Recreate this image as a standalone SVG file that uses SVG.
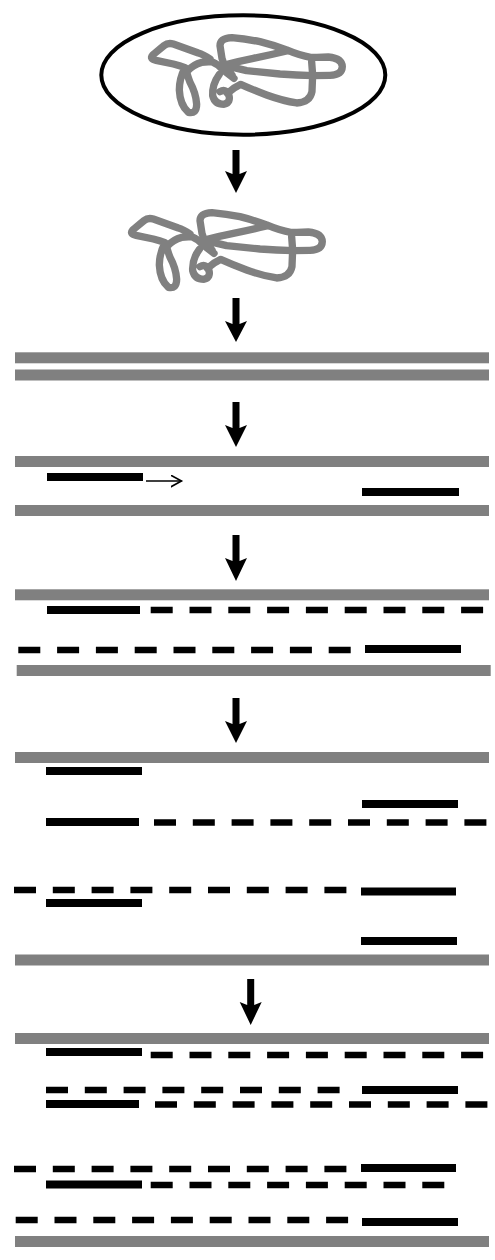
<svg xmlns="http://www.w3.org/2000/svg" width="495" height="1260" viewBox="0 0 495 1260">
  <style>
    .bar { fill: #808080; }
    .seg { stroke: #000; stroke-width: 8; fill: none; }
    .dash { stroke: #000; stroke-width: 6.5; fill: none; stroke-dasharray: 22 16.8; }
    .coil { fill: none; stroke: #808080; stroke-width: 22; stroke-linejoin: round; stroke-linecap: round; }
    .step { fill: #000; }
  </style>
  <defs>
    <!-- tangled strand, drawn in a 3x local frame -->
    <g id="tangle">
      <path class="coil" d="M210,102 Q190,88 175,84 L100,57 Q84,52 72,62 L38,90 Q28,102 48,106 L100,117 Q120,122 135,128
        Q118,160 118,195 Q120,240 145,262 Q170,268 170,238 Q168,205 150,172 Q142,150 140,140
        Q160,118 185,112 L215,110 Q235,118 250,135 L282,160"/>
      <path class="coil" d="M238,148 Q216,178 218,212 Q224,238 252,238 Q274,232 266,208 Q256,190 240,200"/>
      <path class="coil" d="M262,205 Q280,188 302,178 Q340,195 380,210 Q430,228 470,234 Q510,232 516,200 L518,150 L515,110"/>
      <path class="coil" d="M276,150 Q252,125 246,100 L240,62 Q240,40 276,38 Q320,42 360,50 Q400,60 440,75 Q480,92 512,97 Q540,98 565,96 Q606,100 607,125 Q606,150 570,151 L520,152 Q470,150 420,147 Q370,142 320,137 L282,128"/>
      <path class="coil" d="M262,118 Q300,108 340,100 Q390,90 440,78"/>
    </g>
    <marker id="thinHead" markerWidth="14" markerHeight="14" refX="11" refY="6" orient="auto" markerUnits="userSpaceOnUse">
      <path d="M0,0 L11,6 L0,12" fill="none" stroke="#000" stroke-width="1.6"/>
    </marker>
  </defs>

  <!-- cell with its genome -->
  <g id="cell">
    <ellipse cx="243.3" cy="75" rx="142" ry="59.7" fill="#fff" stroke="#000" stroke-width="4"/>
    <use href="#tangle" transform="translate(140,25) scale(0.3333)"/>
  </g>

  <!-- released genome -->
  <g id="released">
    <use href="#tangle" transform="translate(120,200) scale(0.3333)"/>
  </g>

  <!-- denatured duplex -->
  <g id="duplex">
    <rect class="bar" x="15" y="352.3" width="474" height="11"/>
    <rect class="bar" x="15" y="369.5" width="474" height="11"/>
  </g>

  <!-- primers annealed -->
  <g id="primed">
    <rect class="bar" x="15" y="456" width="474" height="11"/>
    <rect class="bar" x="15" y="505" width="474" height="11"/>
    <line class="seg" x1="47" y1="477" x2="143" y2="477"/>
    <line x1="146" y1="481" x2="181.5" y2="481" stroke="#000" stroke-width="1.6" marker-end="url(#thinHead)"/>
    <line class="seg" x1="362" y1="492" x2="459" y2="492"/>
  </g>

  <!-- first extension -->
  <g id="extended">
    <rect class="bar" x="15" y="589.3" width="474" height="11"/>
    <rect class="bar" x="16.7" y="665" width="474" height="11"/>
    <line class="seg" x1="47" y1="610" x2="140" y2="610"/>
    <line class="dash" x1="150.7" y1="610" x2="483.1" y2="610"/>
    <line class="dash" x1="18.3" y1="650" x2="350.7" y2="650"/>
    <line class="seg" x1="365" y1="649" x2="461" y2="649"/>
  </g>

  <!-- second round -->
  <g id="round2">
    <rect class="bar" x="15" y="752" width="474" height="11"/>
    <rect class="bar" x="15" y="954.5" width="474" height="11"/>
    <line class="seg" x1="46" y1="771" x2="142" y2="771"/>
    <line class="seg" x1="362" y1="804" x2="458" y2="804"/>
    <line class="seg" x1="46" y1="822" x2="139" y2="822"/>
    <line class="dash" x1="154" y1="822.5" x2="486.4" y2="822.5"/>
    <line class="dash" x1="14" y1="890" x2="346.4" y2="890"/>
    <line class="seg" x1="361" y1="891.5" x2="456" y2="891.5"/>
    <line class="seg" x1="46" y1="903" x2="142" y2="903"/>
    <line class="seg" x1="361" y1="941" x2="457" y2="941"/>
  </g>

  <!-- third round -->
  <g id="round3">
    <rect class="bar" x="15" y="1033" width="474" height="11"/>
    <rect class="bar" x="15" y="1236" width="474" height="11"/>
    <line class="seg" x1="46" y1="1052" x2="142" y2="1052"/>
    <line class="dash" x1="150.7" y1="1055" x2="483.1" y2="1055"/>
    <line class="dash" x1="46" y1="1090" x2="339.6" y2="1090"/>
    <line class="seg" x1="362" y1="1090" x2="458" y2="1090"/>
    <line class="seg" x1="46" y1="1104" x2="139" y2="1104"/>
    <line class="dash" x1="155" y1="1104.5" x2="487.4" y2="1104.5"/>
    <line class="dash" x1="14" y1="1169" x2="346.4" y2="1169"/>
    <line class="seg" x1="361" y1="1168" x2="456" y2="1168"/>
    <line class="seg" x1="46" y1="1184.5" x2="142" y2="1184.5"/>
    <line class="dash" x1="150.7" y1="1185" x2="444.3" y2="1185"/>
    <line class="dash" x1="15.7" y1="1220" x2="348.1" y2="1220"/>
    <line class="seg" x1="362" y1="1222" x2="458" y2="1222"/>
  </g>

  <!-- step arrows -->
  <g id="connectors">
    <path class="step" d="M232.5,150 H239.5 V174 L247,171 L236,193 L225,171 L232.5,174 Z"/>
    <path class="step" d="M232.5,298 H239.5 V324 L247,321 L236,342 L225,321 L232.5,324 Z"/>
    <path class="step" d="M232.5,402 H239.5 V428 L247,425 L236,447 L225,425 L232.5,428 Z"/>
    <path class="step" d="M232.5,535 H239.5 V561 L247,558 L236,581 L225,558 L232.5,561 Z"/>
    <path class="step" d="M232.5,698 H239.5 V724 L247,721 L236,743 L225,721 L232.5,724 Z"/>
    <path class="step" d="M247.2,979 H254.2 V1005 L261.7,1002 L250.7,1025 L239.7,1002 L247.2,1005 Z"/>
  </g>
</svg>
